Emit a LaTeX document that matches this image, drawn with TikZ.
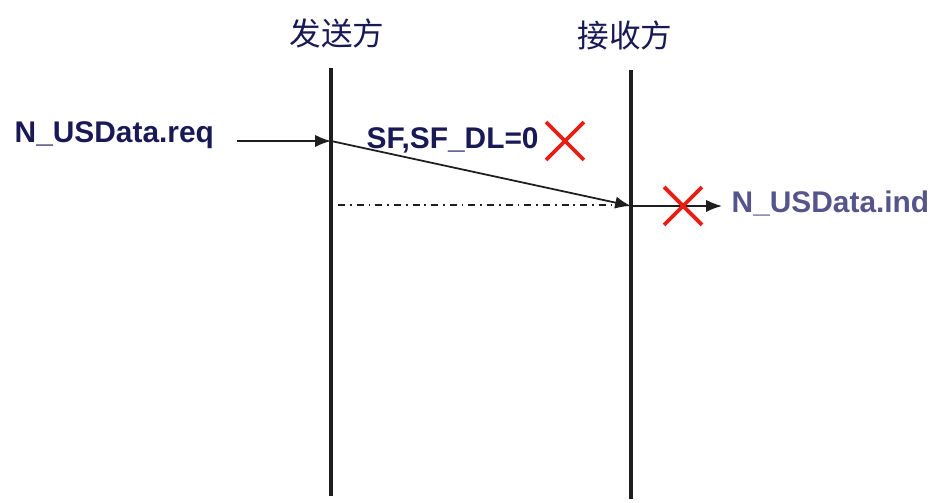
\documentclass[tikz,border=0pt]{standalone}
\usepackage{fontspec}
\setmainfont{Liberation Sans}
\newfontfamily\cjk{Noto Sans CJK SC}
\usetikzlibrary{arrows.meta,shapes.misc}
\definecolor{navy}{RGB}{25,25,85}
\definecolor{lilac}{RGB}{85,85,140}
\definecolor{xred}{RGB}{230,30,20}
\definecolor{ink}{RGB}{30,30,30}
\tikzset{
  msg/.style={draw=ink, line width=0.5pt, -{Latex[length=4.5pt,width=3.5pt]}},
  life/.style={draw=ink, line width=1.2pt},
  fail/.style={cross out, draw=xred, line width=1.1pt, minimum size=0.34cm, inner sep=0pt},
  lbl/.style={font=\fontsize{8.5}{10}\selectfont\bfseries, inner sep=0pt}
}
\begin{document}
\begin{tikzpicture}

\useasboundingbox (0,0) rectangle (9.46,5.03);

% sender and receiver, top
\node[font=\cjk\fontsize{9}{11}\selectfont, text=navy] at (3.37, 4.70) (sendtop) {发送方};
\node[font=\cjk\fontsize{9}{11}\selectfont, text=navy] at (6.25, 4.68) (recvtop) {接收方};

% vertical lines
\coordinate (sendhi) at (3.31, 4.35);
\coordinate (sendlo) at (3.31, 0.07);
\coordinate (recvhi) at (6.31, 4.33);
\coordinate (recvlo) at (6.31, 0.04);
\draw[life] (sendhi) -- (sendlo);
\draw[life] (recvhi) -- (recvlo);

% request
\node[lbl, text=navy, anchor=base west] at (0.14, 3.60) (req) {N\_USData.req};
\coordinate (reqend) at (2.37, 3.62);
\coordinate (sendreq) at (3.31, 3.62);
\draw[msg] (reqend) -- (sendreq);

% single frame
\node[lbl, text=navy, anchor=base west] at (3.66, 3.54) (sf) {SF,SF\_DL=0};
\node[fail] at (5.65, 3.62) (sfx) {};
\coordinate (recvsf) at (6.31, 2.97);
\draw[msg] (sendreq) -- (recvsf);

% timeout, dash dot
\coordinate (senddd) at (3.38, 2.98);
\coordinate (recvdd) at (6.25, 2.98);
\draw[ink, line width=0.5pt, dash pattern=on 2pt off 1.4pt on 0.5pt off 1.4pt] (senddd) -- (recvdd);

% indication
\node[lbl, text=lilac, anchor=base west] at (7.31, 2.90) (ind) {N\_USData.ind};
\coordinate (indend) at (7.22, 2.97);
\draw[msg] (recvsf) -- (indend);
\node[fail] at (6.83, 2.97) (indx) {};

\end{tikzpicture}
\end{document}
